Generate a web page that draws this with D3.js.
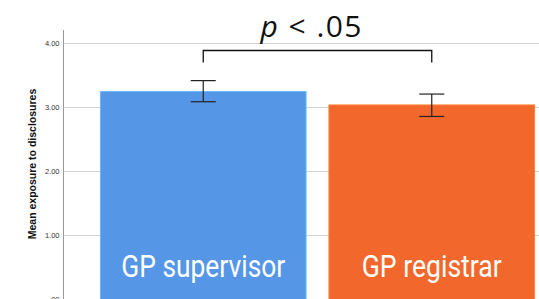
<!DOCTYPE html>
<html><head><meta charset="utf-8">
<script src="https://cdn.jsdelivr.net/npm/d3@7"></script>
<style>body{margin:0;background:#fff}svg{display:block}</style>
</head><body><svg id="c" width="539" height="299"></svg>
<script>
const categories = ["GP supervisor", "GP registrar"];
const means = [3.25, 3.04];
const ciLow = [3.09, 2.86];
const ciHigh = [3.42, 3.21];
const colors = ["#5596e6", "#f2682c"];
const yTicks = [0, 1, 2, 3, 4];
const yTickLabels = [".00", "1.00", "2.00", "3.00", "4.00"];
const yTitle = "Mean exposure to disclosures";
const sigLabel = ".05";

const svg = d3.select("#c");
const y = d3.scaleLinear().domain([0, 4]).range([299.5, 43.5]);
const x = d3.scaleBand().domain(categories).range([89, 546]).paddingInner(0.1).paddingOuter(0.05);
const axisX = 63.5;

// gridlines
svg.append("g").selectAll("line").data(yTicks).join("line")
  .attr("x1", axisX).attr("x2", 539)
  .attr("y1", d => Math.round(y(d)) - 0.5).attr("y2", d => Math.round(y(d)) - 0.5)
  .attr("stroke", "#d4d4d4").attr("stroke-width", 1.2);

// axis
const ax = svg.append("g").attr("transform", `translate(${axisX},0)`)
  .call(d3.axisLeft(y).tickValues(yTicks).tickSize(0).tickPadding(4)
    .tickFormat((d, i) => yTickLabels[i]));
ax.select(".domain").remove();
ax.selectAll("text").attr("font-family", "Liberation Sans, Arial, sans-serif")
  .attr("font-size", 7.5).attr("fill", "#333");
svg.append("line").attr("x1", axisX).attr("x2", axisX).attr("y1", 30).attr("y2", 299)
  .attr("stroke", "#999").attr("stroke-width", 1);

svg.append("text").attr("transform", "translate(35.5,164) rotate(-90)")
  .attr("text-anchor", "middle").attr("font-family", "Liberation Sans, Arial, sans-serif")
  .attr("font-weight", "bold").attr("font-size", 10.5).attr("fill", "#111").text(yTitle);

// bars
svg.append("g").selectAll("rect").data(categories).join("rect")
  .attr("x", d => x(d)).attr("width", x.bandwidth())
  .attr("y", (d, i) => y(means[i])).attr("height", (d, i) => y(0) - y(means[i]) + 2)
  .attr("fill", (d, i) => colors[i])
  .attr("stroke", (d, i) => d3.color(colors[i]).brighter(0.6)).attr("stroke-width", 1);

// error bars
const eb = svg.append("g").attr("stroke", "#222").attr("stroke-width", 1.2);
categories.forEach((c, i) => {
  const cx = x(c) + x.bandwidth() / 2;
  eb.append("line").attr("x1", cx).attr("x2", cx).attr("y1", y(ciHigh[i])).attr("y2", y(ciLow[i]));
  [ciHigh[i], ciLow[i]].forEach(v => eb.append("line").attr("x1", cx - 12.5).attr("x2", cx + 12.5)
    .attr("y1", y(v)).attr("y2", y(v)));
});

// bar labels
const labelW = [164, 140];
svg.append("g").selectAll("text").data(categories).join("text")
  .attr("x", d => x(d) + x.bandwidth() / 2).attr("y", 277)
  .attr("text-anchor", "middle").attr("fill", "#fff")
  .attr("font-family", "Liberation Sans Narrow, Roboto, Liberation Sans, Arial, sans-serif")
  .attr("font-size", 31)
  .attr("textLength", (d, i) => labelW[i]).attr("lengthAdjust", "spacingAndGlyphs")
  .text(d => d);

// significance bracket
const bx1 = x(categories[0]) + x.bandwidth() / 2, bx2 = x(categories[1]) + x.bandwidth() / 2;
svg.append("path").attr("d", `M${bx1},62.5V50.5H${bx2}V62.5`)
  .attr("fill", "none").attr("stroke", "#111").attr("stroke-width", 1.3);
const t = svg.append("text").attr("x", 311).attr("y", 37).attr("text-anchor", "middle")
  .attr("font-family", "Open Sans, Noto Sans, sans-serif").attr("font-size", 30).attr("fill", "#111")
  .attr("textLength", 101).attr("lengthAdjust", "spacing");
t.append("tspan").attr("font-style", "italic").text("p");
t.append("tspan").text(" < " + sigLabel);
</script></body></html>
